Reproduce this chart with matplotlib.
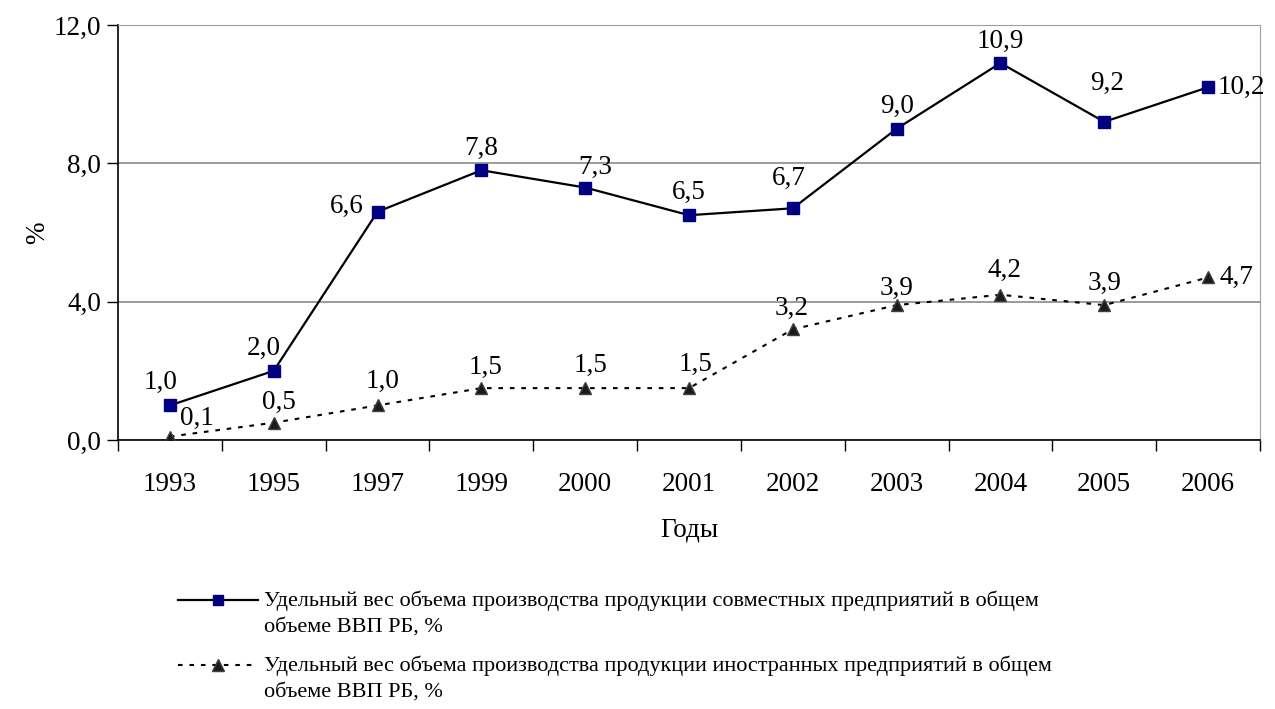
import matplotlib

matplotlib.use("Agg")
import matplotlib.pyplot as plt
from matplotlib.lines import Line2D

plt.rcParams["font.family"] = ["Liberation Serif", "DejaVu Serif"]

years = ["1993", "1995", "1997", "1999", "2000", "2001", "2002", "2003", "2004", "2005", "2006"]
joint = [1.0, 2.0, 6.6, 7.8, 7.3, 6.5, 6.7, 9.0, 10.9, 9.2, 10.2]
foreign = [0.1, 0.5, 1.0, 1.5, 1.5, 1.5, 3.2, 3.9, 4.2, 3.9, 4.7]
joint_label = ["Удельный вес объема производства продукции совместных предприятий в общем",
               "объеме ВВП РБ, %"]
foreign_label = ["Удельный вес объема производства продукции иностранных предприятий в общем",
                 "объеме ВВП РБ, %"]

# label offsets in pixels (dx, dy) relative to each marker
joint_off = [(-9, 23), (-10, 22), (-31, 5), (0, 22), (10, 20), (0, 23), (-4, 30),
             (0, 22), (0, 22), (3, 38), (33, 0)]
foreign_off = [(27, 18), (5, 20), (5, 24), (4, 21), (5, 23), (7, 24), (-1, 21),
               (0, 17), (4, 24), (0, 22), (28, 0)]

W, H = 1275, 709
fig = plt.figure(figsize=(W / 100, H / 100), dpi=100)
ax = fig.add_axes([118 / W, 1 - 440 / H, (1260 - 118) / W, (440 - 25) / H])

joint_style = dict(color="black", lw=1.6, marker="s", ms=8, mfc="#000080", mec="#000080")
foreign_style = dict(color="black", lw=1.5, ls=(0, (2.2, 3.3)), marker="^", ms=9,
                     mfc="#1a1a1a", mec="#404040")

x = list(range(len(years)))
ax.plot(x, joint, zorder=3, **joint_style)
ax.plot(x, foreign, zorder=3, **foreign_style)

for xi, v, (dx, dy) in zip(x, joint, joint_off):
    ax.annotate(f"{v:.1f}".replace(".", ","), (xi, v), xytext=(dx, dy),
                textcoords="offset pixels", ha="center", va="center", fontsize=19.5)
for xi, v, (dx, dy) in zip(x, foreign, foreign_off):
    ax.annotate(f"{v:.1f}".replace(".", ","), (xi, v), xytext=(dx, dy),
                textcoords="offset pixels", ha="center", va="center", fontsize=19.5)

ax.set_xlim(-0.5, len(years) - 0.5)
ax.set_ylim(0, 12)
ax.set_yticks([0, 4, 8, 12])
ax.set_yticklabels(["0,0", "4,0", "8,0", "12,0"], fontsize=19.5)
ax.set_xticks(x)
ax.set_xticklabels(years, fontsize=19.5)
ax.set_xticks([i + 0.5 for i in range(-1, len(years))], minor=True)
ax.tick_params(axis="x", which="major", length=0, pad=23)
ax.tick_params(axis="x", which="minor", length=8, width=1)
ax.tick_params(axis="y", length=8, width=1, pad=4)
ax.grid(axis="y", color="#808080", lw=1.1)
ax.set_axisbelow(True)
for side in ("top", "right"):
    ax.spines[side].set_color("#a0a0a0")
for side in ("left", "bottom"):
    ax.spines[side].set_color("black")
    ax.spines[side].set_linewidth(1.2)

ax.set_xlabel("Годы", fontsize=19.5)
ax.xaxis.set_label_coords(0.5, -(518 - 440) / 415)
ax.set_ylabel("%", fontsize=19.5)
ax.yaxis.set_label_coords(-(118 - 50) / 1142, 0.5)

# legend drawn by hand so the sample sits on the first text line
for style, lines, y0 in ((joint_style, joint_label, 600), (foreign_style, foreign_label, 665)):
    st = dict(style)
    st.pop("marker")
    fig.add_artist(Line2D([178 / W, 258 / W], [1 - y0 / H] * 2, transform=fig.transFigure, **st))
    fig.add_artist(Line2D([218 / W], [1 - y0 / H], transform=fig.transFigure, ls="none",
                          marker=style["marker"], ms=style["ms"] - 1, mfc=style["mfc"],
                          mec=style["mec"]))
    for k, line in enumerate(lines):
        fig.text(264 / W, 1 - (y0 + 1 + 26 * k) / H, line, fontsize=16, va="center", ha="left")

fig.savefig("out.png", dpi=100)
